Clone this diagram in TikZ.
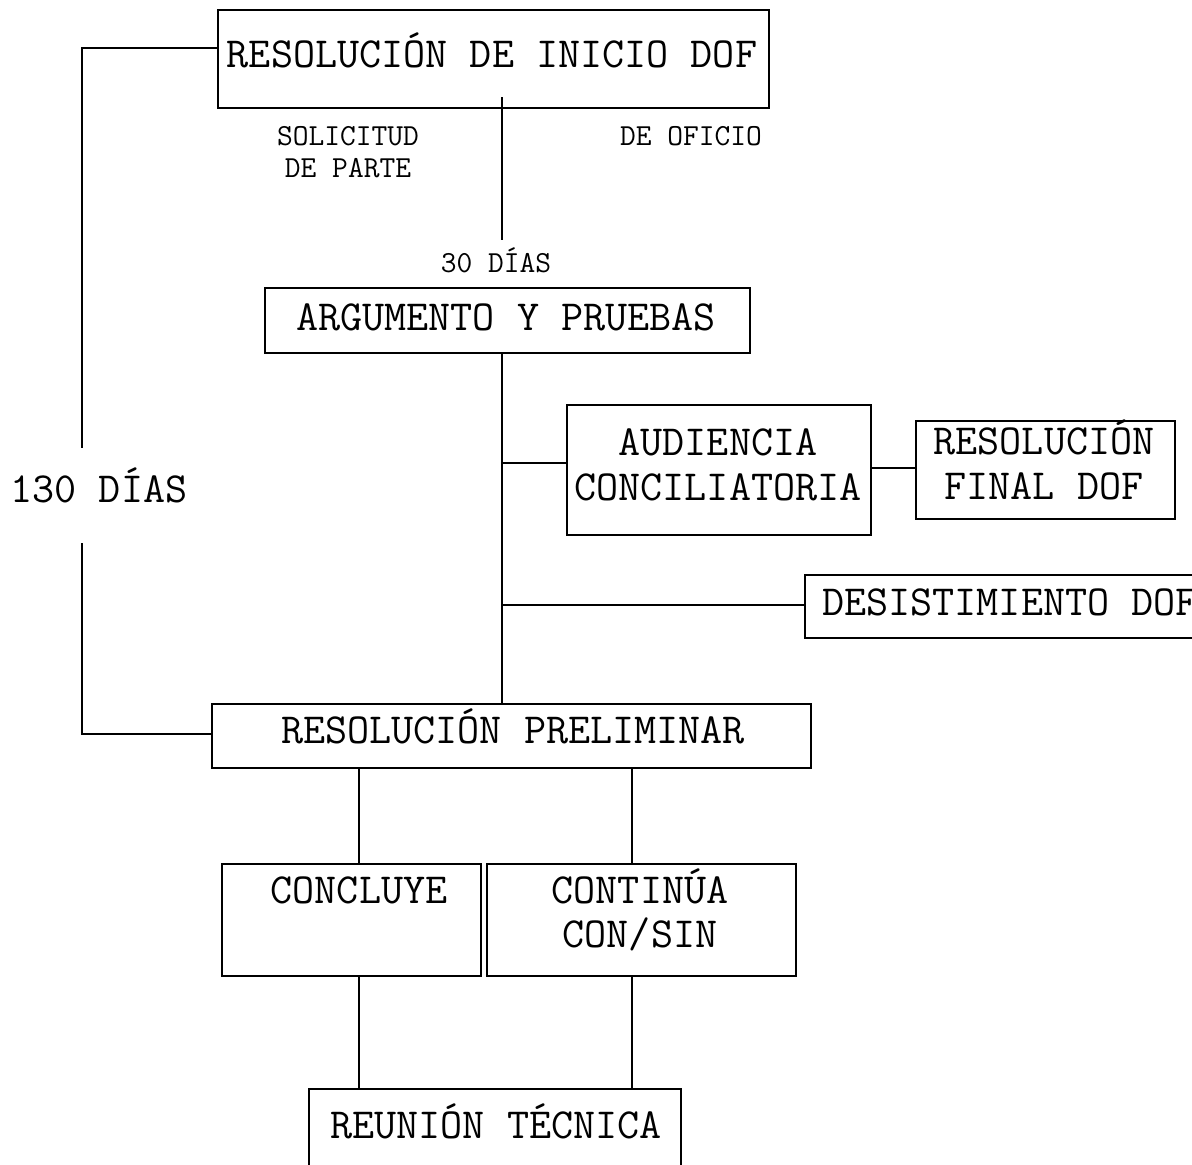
\documentclass[tikz,border=0pt]{standalone}
\usepackage{fontspec}
\newcommand\boxfont{\ttfamily\addfontfeatures{FakeBold=0.8}}
\begin{document}
\begin{tikzpicture}[x=1pt,y=-1pt,
  box/.style={draw, line width=1.8pt, inner sep=0pt, anchor=north west},
  big/.style={font=\boxfont\fontsize{42.9}{45}\selectfont, inner sep=0pt, anchor=base},
  small/.style={font=\boxfont\fontsize{30.6}{32}\selectfont, inner sep=0pt, anchor=base},
  wire/.style={line width=1.8pt}]
\clip (0,0) rectangle (1192,1165);

% boxes
\node[box, minimum width=551pt, minimum height=98pt]  (inicio)  at (217,9)   {};
\node[box, minimum width=485pt, minimum height=65pt]  (argum)   at (264,287) {};
\node[box, minimum width=304pt, minimum height=130pt] (audien)  at (566,404) {};
\node[box, minimum width=259pt, minimum height=98pt]  (final)   at (915,420) {};
\node[box, minimum width=500pt, minimum height=63pt]  (desist)  at (804,574) {};
\node[box, minimum width=599pt, minimum height=64pt]  (prelim)  at (211,703) {};
\node[box, minimum width=259pt, minimum height=112pt] (concl)   at (221,863) {};
\node[box, minimum width=309pt, minimum height=112pt] (contin)  at (486,863) {};
\node[box, minimum width=372pt, minimum height=120pt] (reunion) at (308,1088) {};

% texts (two-line nodes are placed by the baseline of their last line)
\node[big] (tInicio) at (492,67) {RESOLUCIÓN DE INICIO DOF};
\node[small, align=center] (tSol) at (348,177) {SOLICITUD\\DE PARTE};
\node[small] (tOficio) at (691,145) {DE OFICIO};
\node[small] (t30) at (496,272) {30 DÍAS};
\node[big] (tArg) at (506,330) {ARGUMENTO Y PRUEBAS};
\node[big] (t130) at (99,502) {130 DÍAS};
\node[big, align=center] (tAud) at (718,500) {AUDIENCIA\\CONCILIATORIA};
\node[big, align=center] (tFinal) at (1044,499) {RESOLUCIÓN\\FINAL DOF};
\node[big, anchor=base west] (tDesist) at (822,615) {DESISTIMIENTO DOF};
\node[big] (tPrelim) at (513,743) {RESOLUCIÓN PRELIMINAR};
\node[big] (tConcl) at (359,903) {CONCLUYE};
\node[big, align=center] (tContin) at (640,947) {CONTINÚA\\[-1pt]CON/SIN};
\node[big] (tReun) at (496,1138) {REUNIÓN TÉCNICA};

% routing points
\coordinate (lTop) at (82,48);
\coordinate (lGapA) at (82,448);
\coordinate (lGapB) at (82,543);
\coordinate (lBot) at (82,734);
\coordinate (sp) at (502,97);
\coordinate (spEnd) at (502,240);
\coordinate (trunk) at (502,0);
\coordinate (b1) at (502,463);
\coordinate (a2) at (0,468);
\coordinate (b2) at (502,605);
\coordinate (L) at (359,0);
\coordinate (R) at (632,0);

% connectors
\draw[wire] (inicio.west |- lTop) -- (lTop) -- (lGapA);
\draw[wire] (lGapB) -- (lBot) -- (prelim.west |- lBot);
\draw[wire] (sp) -- (spEnd);
\draw[wire] (argum.south -| trunk) -- (prelim.north -| trunk);
\draw[wire] (b1) -- (audien.west |- b1);
\draw[wire] (audien.east |- a2) -- (final.west |- a2);
\draw[wire] (b2) -- (desist.west |- b2);
\draw[wire] (prelim.south -| L) -- (concl.north -| L);
\draw[wire] (prelim.south -| R) -- (contin.north -| R);
\draw[wire] (concl.south -| L) -- (reunion.north -| L);
\draw[wire] (contin.south -| R) -- (reunion.north -| R);
\end{tikzpicture}
\end{document}
